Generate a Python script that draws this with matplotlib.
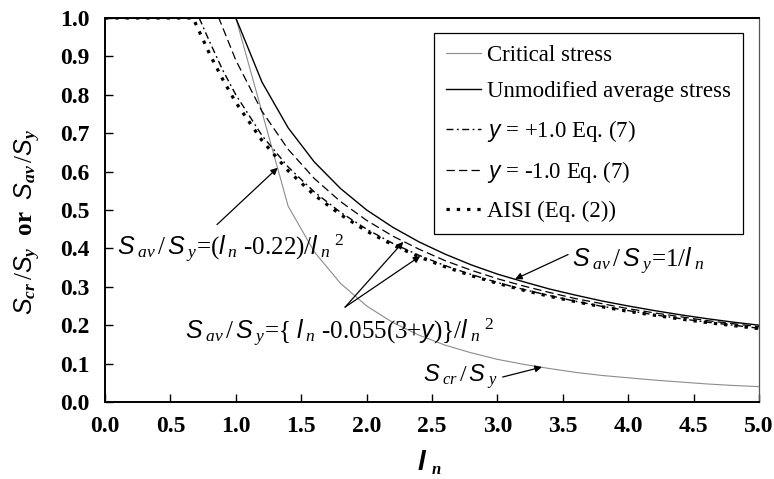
import matplotlib
matplotlib.use('Agg')
import matplotlib.pyplot as plt

plt.rcParams['font.family'] = ['Liberation Serif', 'DejaVu Serif']
plt.rcParams['mathtext.fontset'] = 'custom'
plt.rcParams['mathtext.rm'] = 'Liberation Serif'
plt.rcParams['mathtext.it'] = 'Liberation Serif:italic'
plt.rcParams['mathtext.bf'] = 'Liberation Serif:bold'
plt.rcParams['mathtext.bfit'] = 'Liberation Serif:bold:italic'
plt.rcParams['mathtext.sf'] = 'Liberation Sans:italic'
plt.rcParams['lines.scale_dashes'] = False

# slenderness values and stress ratios
lam_cr = [0.0, 1.0, 1.4, 1.6, 1.8, 2.0, 2.2, 2.4, 2.6, 2.8, 3.0, 3.2, 3.4, 3.6,
          3.8, 4.0, 4.2, 4.4, 4.6, 4.8, 5.0]
s_cr = [1.0, 1.0, 0.510, 0.391, 0.309, 0.250, 0.207, 0.174, 0.148, 0.128, 0.111,
        0.098, 0.087, 0.077, 0.069, 0.063, 0.057, 0.052, 0.047, 0.043, 0.040]

lam_un = [0.0, 1.0, 1.2, 1.4, 1.6, 1.8, 2.0, 2.2, 2.4, 2.6, 2.8, 3.0, 3.2, 3.4,
          3.6, 3.8, 4.0, 4.2, 4.4, 4.6, 4.8, 5.0]
s_un = [1.0, 1.0, 0.833, 0.714, 0.625, 0.556, 0.500, 0.455, 0.417, 0.385, 0.357,
        0.333, 0.313, 0.294, 0.278, 0.263, 0.250, 0.238, 0.227, 0.217, 0.208, 0.200]

lam_m1 = [0.0, 0.87, 1.0, 1.2, 1.4, 1.6, 1.8, 2.0, 2.2, 2.4, 2.6, 2.8, 3.0, 3.2,
          3.4, 3.6, 3.8, 4.0, 4.2, 4.4, 4.6, 4.8, 5.0]
s_m1 = [1.0, 1.0, 0.890, 0.757, 0.658, 0.582, 0.522, 0.473, 0.432, 0.398, 0.368,
        0.343, 0.321, 0.302, 0.285, 0.269, 0.256, 0.243, 0.232, 0.222, 0.212, 0.204, 0.196]

lam_p1 = [0.0, 0.72, 0.8, 0.9, 1.0, 1.2, 1.4, 1.6, 1.8, 2.0, 2.2, 2.4, 2.6, 2.8,
          3.0, 3.2, 3.4, 3.6, 3.8, 4.0, 4.2, 4.4, 4.6, 4.8, 5.0]
s_p1 = [1.0, 1.0, 0.938, 0.864, 0.800, 0.694, 0.612, 0.547, 0.494, 0.450, 0.413,
        0.382, 0.355, 0.332, 0.311, 0.293, 0.277, 0.262, 0.249, 0.238, 0.227, 0.217,
        0.208, 0.200, 0.192]

lam_aisi = [0.0, 0.673, 0.7, 0.8, 0.9, 1.0, 1.2, 1.4, 1.6, 1.8, 2.0, 2.2, 2.4, 2.6,
            2.8, 3.0, 3.2, 3.4, 3.6, 3.8, 4.0, 4.2, 4.4, 4.6, 4.8, 5.0]
s_aisi = [1.0, 1.0, 0.980, 0.906, 0.840, 0.780, 0.681, 0.602, 0.539, 0.488, 0.445,
          0.409, 0.378, 0.352, 0.329, 0.309, 0.291, 0.275, 0.261, 0.248, 0.236, 0.226,
          0.216, 0.207, 0.199, 0.191]

x_ticks = [0.0, 0.5, 1.0, 1.5, 2.0, 2.5, 3.0, 3.5, 4.0, 4.5, 5.0]
y_ticks = [0.0, 0.1, 0.2, 0.3, 0.4, 0.5, 0.6, 0.7, 0.8, 0.9, 1.0]

fig = plt.figure(figsize=(7.74, 4.79), dpi=100)
ax = fig.add_axes([0.1357, 0.1608, 0.845, 0.8016])

ax.plot(lam_cr, s_cr, color='#8c8c8c', lw=0.8, label='Critical stress')
ax.plot(lam_un, s_un, color='black', lw=1.0, label='Unmodified average stress')
ax.plot(lam_p1, s_p1, color='black', lw=1.0, dashes=(5, 2.5, 1.3, 2.5),
        label=r'$\mathsf{y}$ = +1.0 Eq. (7)')
ax.plot(lam_m1, s_m1, color='black', lw=0.9, dashes=(6, 3),
        label=r'$\mathsf{y}$ = -1.0 Eq. (7)')
ax.plot(lam_aisi, s_aisi, color='black', lw=2.3, dashes=(2.4, 5.0),
        label='AISI (Eq. (2))')

ax.set_xlim(0, 5)
ax.set_ylim(0, 1)
ax.set_xticks(x_ticks)
ax.set_yticks(y_ticks)
ax.set_xticklabels(['%.1f' % v for v in x_ticks], fontweight='bold', fontsize=17)
ax.set_yticklabels(['%.1f' % v for v in y_ticks], fontweight='bold', fontsize=17)
ax.tick_params(direction='in', length=6, width=1, top=False, right=False)
ax.tick_params(axis='x', pad=10)
ax.tick_params(axis='y', pad=11)

for s in ['left', 'bottom', 'top']:
    ax.spines[s].set_linewidth(1.4)
ax.spines['right'].set_linewidth(0.9)
ax.spines['right'].set_color('#555555')

leg = ax.legend(loc='upper right', bbox_to_anchor=(0.976, 0.961), fontsize=16.5,
                handlelength=1.5, handletextpad=0.3, labelspacing=0.67,
                borderpad=0.52, fancybox=False, framealpha=1, edgecolor='black',
                borderaxespad=0)
leg.get_frame().set_linewidth(0.9)

arrow = dict(arrowstyle='-|>', color='black', lw=0.9, mutation_scale=10,
             shrinkA=0, shrinkB=0)
fs = 18
sav = r'$\mathsf{S}_{\;\mathit{av}}\,/\,\mathsf{S}_{\;\mathit{y}}$'
scr = r'$\mathsf{S}_{\;\mathit{cr}}\,/\,\mathsf{S}_{\;\mathit{y}}$'
ln = r'$\mathsf{l}_{\;\mathit{n}}$'
ln2 = r'$\mathsf{l}_{\;\mathit{n}}\;{}^{2}$'

ax.annotate(sav + '=(' + ln + ' -0.22)/' + ln2,
            xy=(1.32, 0.61), xytext=(0.09, 0.40), fontsize=fs, va='center')
ax.annotate('', xy=(1.32, 0.61), xytext=(0.856, 0.462), arrowprops=arrow)

ax.annotate(sav + '={ ' + ln + ' -0.055(3+' + r'$\mathsf{y}$' + ')}/' + ln2,
            xy=(2.28, 0.417), xytext=(0.61, 0.18), fontsize=fs, va='center')
ax.annotate('', xy=(2.28, 0.417), xytext=(1.835, 0.247), arrowprops=arrow)
ax.annotate('', xy=(2.41, 0.380), xytext=(1.835, 0.247), arrowprops=arrow)

ax.annotate(sav + '=1/' + ln,
            xy=(3.135, 0.32), xytext=(3.57, 0.365), fontsize=fs, va='center')
ax.annotate('', xy=(3.135, 0.32), xytext=(3.54, 0.384), arrowprops=arrow)

ax.annotate(scr, xy=(3.34, 0.091), xytext=(2.43, 0.065), fontsize=17, va='center')
ax.annotate('', xy=(3.34, 0.091), xytext=(3.04, 0.065), arrowprops=arrow)

# axis titles
fig.text(28 / 774, 1 - 222 / 479,
         r'$\mathsf{S}_{\mathbfit{cr}}\,/\mathsf{S}_{\mathbfit{y}}$  or  $\mathsf{S}_{\mathbfit{av}}\,/\mathsf{S}_{\mathbfit{y}}$',
         rotation=90, fontsize=18, fontweight='bold', ha='center', va='center')
fig.text(421 / 774, 1 - 463 / 479, 'l', family='Liberation Sans', style='italic',
         fontweight='bold', fontsize=20, ha='center', va='center')
fig.text(436 / 774, 1 - 470 / 479, 'n', style='italic', fontweight='bold',
         fontsize=12, ha='center', va='center')

fig.savefig('out.png', dpi=100)
